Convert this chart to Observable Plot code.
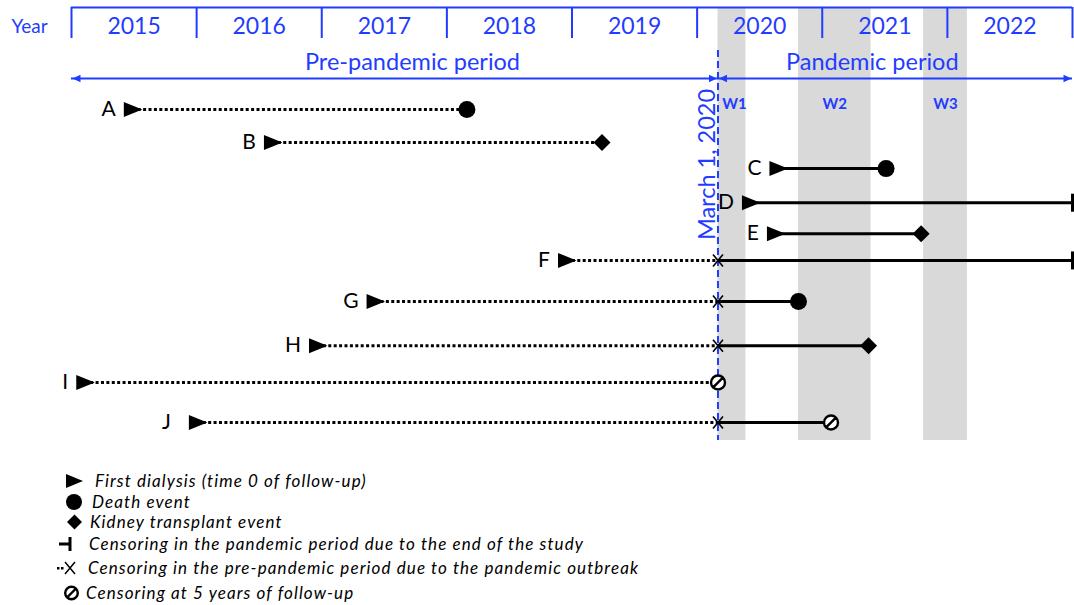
<!DOCTYPE html>
<html><head><meta charset="utf-8">
<script src="https://cdn.jsdelivr.net/npm/d3@7"></script>
<script src="https://cdn.jsdelivr.net/npm/@observablehq/plot@0.6"></script>
<style>
html,body{margin:0;padding:0;background:#fff;}
#wrap{position:relative;width:1074px;height:605px;overflow:hidden;font-family:Lato,sans-serif;}
#chart svg{display:block;}
.leg{position:absolute;left:0;height:22px;width:800px;}
.leg svg{position:absolute;left:0;top:0;}
.leg span{position:absolute;top:1px;display:block;height:20px;line-height:20px;font-style:italic;font-size:17px;letter-spacing:1.1px;color:#000;white-space:nowrap;}
</style></head>
<body><div id="wrap"><div id="chart"></div><div id="legend"></div></div>
<script>
// ---- data ----
const patients   = ["A","B","C","D","E","F","G","H","I","J"];
const lanes      = [0, 0.95, 1.70, 2.68, 3.57, 4.34, 5.52, 6.79, 7.85, 9];
const startDates = [2015.49, 2016.61, 2020.65, 2020.43, 2020.63, 2018.96, 2017.43, 2016.97, 2015.11, 2016.01];
const endDates   = [2018.16, 2019.24, 2021.51, 2023.0, 2021.79, 2023.0, 2020.81, 2021.37, 2020.167, 2021.07];
const outcomes   = ["death","transplant","death","end","transplant","end","death","transplant","censor5","censor5"];
const years      = [2015, 2016, 2017, 2018, 2019, 2020, 2021, 2022];
const waveNames  = ["W1","W2","W3"];
const waveStart  = [2020.167, 2020.81, 2021.81];
const waveEnd    = [2020.39, 2021.39, 2022.16];
const outbreak   = 2020 + 2/12;
const studyEnd   = 2023;
const periodLabels = ["Pre-pandemic period", "Pandemic period"];
const periodLabelX = [2017.725, 2021.40];
const legendLabels = [
  "First dialysis (time 0 of follow-up)",
  "Death event",
  "Kidney transplant event",
  "Censoring in the pandemic period due to the end of the study",
  "Censoring in the pre-pandemic period due to the pandemic outbreak",
  "Censoring at 5 years of follow-up"
];

// ---- build ----
const blue = "#1f3cff";
const rows = patients.map((id, i) => ({id, lane: lanes[i], start: startDates[i], end: endDates[i], outcome: outcomes[i]}));
const py = px => (px - 109) * 9 / 313; // pixel row -> lane units (layout helper)

const triRight = {draw(c){ c.moveTo(-9,-7.5); c.lineTo(9.5,0); c.lineTo(-9,7.5); c.closePath(); }};
const headRight = {draw(c){ c.moveTo(-8,-3.8); c.lineTo(0,0); c.lineTo(-8,3.8); c.closePath(); }};
const headLeft = {draw(c){ c.moveTo(8,-3.8); c.lineTo(0,0); c.lineTo(8,3.8); c.closePath(); }};
const circ = {draw(c){ c.moveTo(8.5,0); c.arc(0,0,8.5,0,2*Math.PI); }};
const diam = {draw(c){ c.moveTo(0,-8.5); c.lineTo(8.5,0); c.lineTo(0,8.5); c.lineTo(-8.5,0); c.closePath(); }};
const endBar = {draw(c){ c.rect(-3,-9,3,18); }};
const cross = {draw(c){ c.moveTo(-5,-6); c.lineTo(5,6); c.moveTo(5,-6); c.lineTo(-5,6); }};
const slashCirc = {draw(c){ c.moveTo(7,0); c.arc(0,0,7,0,2*Math.PI); c.moveTo(-4.9,4.9); c.lineTo(4.9,-4.9); }};

const pre = rows.filter(d => d.start < outbreak);
const post = rows.filter(d => d.end > outbreak);
const crossed = rows.filter(d => d.start < outbreak && d.end > outbreak);

const chart = Plot.plot({
  width: 1074, height: 450,
  marginTop: 0, marginBottom: 0, marginLeft: 0, marginRight: 0,
  x: {domain: [2015, 2023], range: [71, 1072], axis: null},
  y: {domain: [0, 9], range: [109, 422], axis: null},
  style: {fontFamily: "Lato, sans-serif", background: "#fff"},
  marks: [
    Plot.rect(waveNames, {x1: waveStart, x2: waveEnd, y1: py(8), y2: py(440), fill: "#d9d9d9"}),
    // year box
    Plot.ruleY([py(7)], {x1: 2015, x2: 2023, stroke: blue, strokeWidth: 2}),
    Plot.ruleX(years.concat([studyEnd]), {y1: py(7), y2: py(38), stroke: blue, strokeWidth: 2}),
    Plot.text(years, {x: d => d + 0.5, y: py(26), text: d => String(d), fill: blue, fontSize: 23}),
    Plot.text(["Year"], {x: 2015, dx: -42, y: py(26), fill: blue, fontSize: 19}),
    // period arrows
    Plot.ruleY([py(78)], {x1: 2015, x2: studyEnd, stroke: blue, strokeWidth: 2}),
    Plot.dot([2015, outbreak], {x: d => d, y: py(78), symbol: headLeft, fill: blue, stroke: "none", dx: 1}),
    Plot.dot([outbreak, studyEnd], {x: d => d, y: py(78), symbol: headRight, fill: blue, stroke: "none", dx: -1}),
    Plot.text(periodLabels, {x: periodLabelX, y: py(62), fill: blue, fontSize: 23.5}),
    // outbreak line
    Plot.ruleX([outbreak], {y1: py(50), y2: py(440), stroke: blue, strokeWidth: 2, strokeDasharray: "7,4"}),
    Plot.text(["March 1, 2020"], {x: outbreak, dx: -11, y: py(164), rotate: -90, fill: blue, fontSize: 23.5}),
    Plot.text(waveNames, {x: waveNames.map((d, i) => (waveStart[i] + waveEnd[i]) / 2 + (i === 0 ? 0.02 : 0)), y: py(104), fill: blue, fontSize: 15, fontWeight: "bold"}),
    // follow-up lines
    Plot.ruleY(pre, {x1: "start", x2: d => Math.min(d.end, outbreak), y: "lane", stroke: "#000", strokeWidth: 3, strokeDasharray: "3,2.4"}),
    Plot.ruleY(post, {x1: d => Math.max(d.start, outbreak), x2: "end", y: "lane", stroke: "#000", strokeWidth: 3}),
    // markers
    Plot.dot(rows, {x: "start", y: "lane", symbol: triRight, fill: "#000", stroke: "none"}),
    Plot.dot(rows.filter(d => d.outcome === "death"), {x: "end", y: "lane", symbol: circ, fill: "#000", stroke: "none"}),
    Plot.dot(rows.filter(d => d.outcome === "transplant"), {x: "end", y: "lane", symbol: diam, fill: "#000", stroke: "none"}),
    Plot.dot(rows.filter(d => d.outcome === "end"), {x: "end", y: "lane", symbol: endBar, fill: "#000", stroke: "none", dx: 1.5}),
    Plot.dot(crossed, {x: outbreak, y: "lane", symbol: cross, fill: "none", stroke: "#000", strokeWidth: 1.6}),
    Plot.dot(rows.filter(d => d.outcome === "censor5"), {x: "end", y: "lane", symbol: slashCirc, fill: "#fff", stroke: "#000", strokeWidth: 2.4}),
    Plot.text(rows.filter(d => d.id !== "J"), {x: "start", y: "lane", text: "id", textAnchor: "end", dx: -17, fill: "#000", fontSize: 21}),
    Plot.text(rows.filter(d => d.id === "J"), {x: "start", y: "lane", text: "id", textAnchor: "end", dx: -27, fill: "#000", fontSize: 21})
  ]
});
document.getElementById("chart").appendChild(chart);

// ---- legend ----
const icons = [
  '<path d="M66,4 L83,11 L66,18 Z" fill="#000"/>',
  '<circle cx="74" cy="11" r="8" fill="#000"/>',
  '<path d="M74.5,3.5 L82,11 L74.5,18.5 L67,11 Z" fill="#000"/>',
  '<rect x="59" y="9.5" width="10" height="3" fill="#000"/><rect x="68.5" y="4" width="3" height="14" fill="#000"/>',
  '<rect x="57" y="10" width="2.5" height="2.5" fill="#000"/><rect x="61" y="10" width="2.5" height="2.5" fill="#000"/><path d="M65,5 L75,17 M75,5 L65,17" stroke="#000" stroke-width="1.5"/>',
  '<circle cx="71.5" cy="11" r="6.3" fill="#fff" stroke="#000" stroke-width="2.4"/><path d="M67,15.5 L76,6.5" stroke="#000" stroke-width="2.4"/>'
];
const legendTop = [470, 490.5, 511, 533, 557, 582];
const legendTextX = [95, 92, 90, 89, 88, 86];
const leg = document.getElementById("legend");
legendLabels.forEach((t, i) => {
  const div = document.createElement("div");
  div.className = "leg";
  div.style.top = legendTop[i] + "px";
  div.innerHTML = '<svg width="100" height="22">' + icons[i] + '</svg><span style="left:' + legendTextX[i] + 'px">' + t + '</span>';
  leg.appendChild(div);
});
</script>
</body></html>
